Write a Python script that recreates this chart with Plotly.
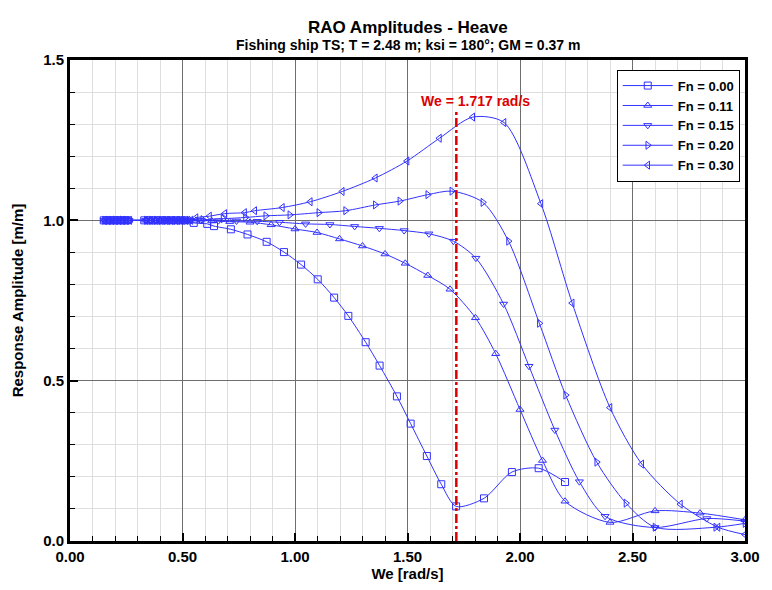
import plotly.graph_objects as go

# ---------------- data ----------------
cluster_a = [0.15, 0.165, 0.18, 0.195, 0.21, 0.225, 0.24, 0.255,
             0.33, 0.35, 0.37, 0.39, 0.41, 0.43, 0.45, 0.47, 0.49, 0.51]
cluster_b = [0.152, 0.168, 0.183, 0.199, 0.214, 0.23, 0.246, 0.262,
             0.336, 0.357, 0.378, 0.399, 0.42, 0.441, 0.462, 0.483, 0.504, 0.525]
cluster_c = [0.153, 0.169, 0.185, 0.201, 0.217, 0.233, 0.249, 0.266,
             0.339, 0.361, 0.383, 0.405, 0.427, 0.449, 0.471, 0.493, 0.515, 0.537]

fn000_x = cluster_a + [0.55, 0.61, 0.64, 0.715, 0.789, 0.874, 0.951, 1.027, 1.101,
                       1.174, 1.237, 1.314, 1.376, 1.453, 1.514, 1.586, 1.650,
                       1.716, 1.840, 1.964, 2.083, 2.200]
fn000_y = [1.0] * 18 + [0.992, 0.989, 0.982, 0.972, 0.956, 0.933, 0.901,
                        0.862, 0.816, 0.759, 0.702, 0.620, 0.547, 0.451,
                        0.366, 0.265, 0.177, 0.108, 0.133, 0.215, 0.227, 0.184]

fn011_x = cluster_b + [0.56, 0.63, 0.71, 0.80, 0.894, 1.000, 1.098, 1.198, 1.300,
                       1.400, 1.490, 1.590, 1.689, 1.802, 1.892, 2.000, 2.100,
                       2.200, 2.400, 2.600, 2.800, 3.000]
fn011_y = [1.0] * 18 + [1.000, 0.998, 0.996, 0.994, 0.986, 0.973, 0.962,
                        0.942, 0.920, 0.895, 0.866, 0.828, 0.785, 0.696,
                        0.584, 0.410, 0.251, 0.124, 0.058, 0.094, 0.087, 0.066]

fn015_x = cluster_b + [0.58, 0.66, 0.74, 0.832, 0.931, 1.047, 1.155, 1.265, 1.375,
                       1.485, 1.595, 1.704, 1.804, 1.927, 2.040, 2.155, 2.264,
                       2.378, 2.600, 2.830, 3.000]
fn015_y = [1.0] * 18 + [1.000, 0.999, 0.998, 0.997, 0.994, 0.989, 0.987,
                        0.981, 0.975, 0.968, 0.958, 0.935, 0.882, 0.739,
                        0.545, 0.346, 0.185, 0.077, 0.042, 0.070, 0.062]

fn020_x = cluster_c + [0.59, 0.68, 0.78, 0.870, 0.977, 1.106, 1.225, 1.357, 1.466,
                       1.590, 1.697, 1.835, 1.949, 2.086, 2.203, 2.341, 2.471,
                       2.600, 2.870, 3.000]
fn020_y = [1.0] * 18 + [1.002, 1.005, 1.009, 1.014, 1.017, 1.024, 1.030,
                        1.048, 1.060, 1.080, 1.091, 1.056, 0.935, 0.679,
                        0.455, 0.246, 0.118, 0.043, 0.043, 0.055]

fn030_x = cluster_c + [0.56, 0.62, 0.688, 0.776, 0.821, 0.944, 1.068, 1.210, 1.357,
                       1.498, 1.642, 1.790, 1.929, 2.093, 2.232, 2.400, 2.541,
                       2.713, 2.880, 3.000]
fn030_y = [1.0] * 18 + [1.008, 1.013, 1.021, 1.024, 1.030, 1.040, 1.058,
                        1.090, 1.132, 1.185, 1.256, 1.322, 1.305, 1.052,
                        0.742, 0.416, 0.240, 0.115, 0.043, 0.020]

series_names = ["Fn = 0.00", "Fn = 0.11", "Fn = 0.15", "Fn = 0.20", "Fn = 0.30"]
series_x = [fn000_x, fn011_x, fn015_x, fn020_x, fn030_x]
series_y = [fn000_y, fn011_y, fn015_y, fn020_y, fn030_y]
series_symbols = ["square-open", "triangle-up-open", "triangle-down-open",
                  "triangle-right-open", "triangle-left-open"]

we_peak = 1.717
we_line_y = [0.0, 1.34]
x_ticks = [0.0, 0.5, 1.0, 1.5, 2.0, 2.5, 3.0]
x_tick_labels = ["0.00", "0.50", "1.00", "1.50", "2.00", "2.50", "3.00"]
y_ticks = [0.0, 0.5, 1.0, 1.5]
y_tick_labels = ["0.0", "0.5", "1.0", "1.5"]

# ---------------- figure ----------------
FONT = "Liberation Sans, Arial, sans-serif"
BLUE = "rgb(50,50,255)"
RED = "rgb(220,0,0)"

fig = go.Figure()
for name, xs, ys, sym in zip(series_names, series_x, series_y, series_symbols):
    fig.add_trace(go.Scatter(
        x=xs, y=ys, name=name, mode="lines+markers",
        line=dict(color=BLUE, width=1, shape="spline", smoothing=0.8),
        marker=dict(symbol=sym, size=7, color=BLUE, line=dict(width=1, color=BLUE)),
    ))

fig.add_trace(go.Scatter(
    x=[we_peak, we_peak], y=we_line_y, mode="lines", showlegend=False,
    line=dict(color=RED, width=2.5, dash="dashdot"),
))

fig.add_annotation(x=1.80, y=1.373, xref="x", yref="y",
                   text="We = %.3f rad/s" % we_peak, showarrow=False,
                   font=dict(family=FONT, size=14, color=RED, weight="bold"))

fig.add_annotation(x=0.5, y=1.091, xref="paper", yref="paper",
                   text="RAO Amplitudes - Heave", showarrow=False,
                   font=dict(family=FONT, size=17, color="black", weight="bold"))
fig.add_annotation(x=0.5, y=1.052, xref="paper", yref="paper",
                   text="Fishing ship TS; T = 2.48 m; ksi = 180°; GM = 0.37 m",
                   showarrow=False,
                   font=dict(family=FONT, size=14, color="black", weight="bold"))

axis_common = dict(
    showline=True, linecolor="black", linewidth=3, mirror=True,
    ticks="inside", ticklen=8, tickwidth=2, tickcolor="black",
    showgrid=True, gridcolor="rgb(110,110,110)", gridwidth=1,
    zeroline=False,
    tickfont=dict(family=FONT, size=15, color="black", weight="bold"),
)

fig.update_xaxes(
    range=[0, 3], tickvals=x_ticks, ticktext=x_tick_labels,
    minor=dict(dtick=0.1, tick0=0, ticks="inside", ticklen=5, tickwidth=1,
               tickcolor="black", showgrid=True, gridcolor="rgb(222,222,222)", gridwidth=1),
    title=dict(text="We [rad/s]", standoff=2,
               font=dict(family=FONT, size=15, color="black", weight="bold")),
    **axis_common,
)
fig.update_yaxes(
    range=[0, 1.5], tickvals=y_ticks, ticktext=y_tick_labels,
    minor=dict(dtick=0.1, tick0=0, ticks="inside", ticklen=5, tickwidth=1,
               tickcolor="black", showgrid=True, gridcolor="rgb(222,222,222)", gridwidth=1),
    title=dict(text="Response Amplitude [m/m]", standoff=16,
               font=dict(family=FONT, size=15, color="black", weight="bold")),
    **axis_common,
)

fig.update_layout(
    width=772, height=590,
    margin=dict(l=70, r=16, t=60, b=40),
    paper_bgcolor="white", plot_bgcolor="white",
    font=dict(family=FONT, color="black"),
    legend=dict(x=0.81, y=0.98, xanchor="left", yanchor="top",
                bgcolor="white", bordercolor="black", borderwidth=1,
                font=dict(family=FONT, size=13, color="black", weight="bold"),
                tracegroupgap=0, itemwidth=50),
)

fig.write_html("out.html")
